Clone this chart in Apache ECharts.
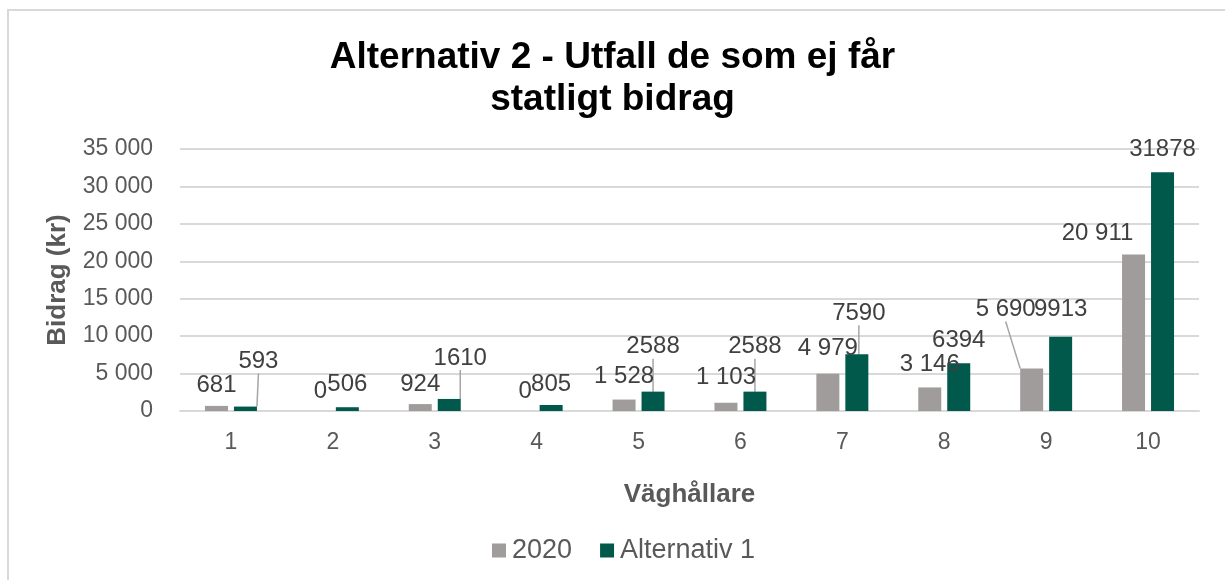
<!DOCTYPE html>
<html><head><meta charset="utf-8">
<script src="https://cdn.jsdelivr.net/npm/echarts@6/dist/echarts.min.js"></script>
<style>html,body{margin:0;padding:0;background:#fff}#c{width:1225px;height:580px}</style>
</head><body><div id="c"></div>
<script>
const categories = ['1','2','3','4','5','6','7','8','9','10'];
const values2020 = [681, 0, 924, 0, 1528, 1103, 4979, 3146, 5690, 20911];
const valuesAlt1 = [593, 506, 1610, 805, 2588, 2588, 7590, 6394, 9913, 31878];
const seriesNames = ['2020', 'Alternativ 1'];
const yTicks = [0, 5000, 10000, 15000, 20000, 25000, 30000, 35000];

// label moves (dx, dy) relative to default 'top' placement, and leader line flags
const move2020 = [[0,-4],[2,-3],[0,-3],[3,-3],[0,-6],[0,-8],[0,-8],[0,-6],[-26,-42],[-36,-4]];
const line2020 = [0,0,0,0,0,0,0,0,1,0];
const moveAlt = [[13,-28],[0,-6],[11,-24],[0,-4],[0,-28],[0,-28],[2,-24],[0,-6],[0,-10],[0,-6]];
const lineAlt = [1,0,1,0,1,1,1,0,0,0];

const fmtSpace = v => String(v).replace(/\B(?=(\d{3})+(?!\d))/g, ' ');
const FONT = '"Liberation Sans", Arial, sans-serif';

const chart = echarts.init(document.getElementById('c'));
function mk(vals, lines) {
  return vals.map((v, i) => ({ value: v, labelLine: { show: !!lines[i] } }));
}
chart.setOption({
  animation: false,
  textStyle: { fontFamily: FONT },
  graphic: [{ type: 'rect', shape: { x: 8, y: 10, width: 1240, height: 600 },
    style: { fill: 'none', stroke: '#d9d9d9', lineWidth: 2 }, silent: true }],
  title: {
    text: 'Alternativ 2 - Utfall de som ej får\nstatligt bidrag',
    left: 'center', top: 32,
    textStyle: { fontFamily: FONT, fontSize: 37, fontWeight: 'bold', color: '#000', lineHeight: 42 }
  },
  legend: {
    top: 532, left: 487, itemWidth: 14, itemHeight: 14, itemGap: 28,
    icon: 'rect',
    textStyle: { fontFamily: FONT, fontSize: 27, color: '#595959', padding: [0,0,0,1] },
    data: seriesNames
  },
  grid: { left: 180, right: 26, top: 149, bottom: 169, containLabel: false },
  xAxis: {
    type: 'category', data: categories,
    name: 'Väghållare', nameLocation: 'middle', nameGap: 71,
    nameTextStyle: { fontFamily: FONT, fontSize: 26, fontWeight: 'bold', color: '#595959' },
    axisLine: { lineStyle: { color: '#d9d9d9', width: 2 } },
    axisTick: { show: false },
    axisLabel: { fontFamily: FONT, fontSize: 23, color: '#595959', margin: 20 }
  },
  yAxis: {
    type: 'value', min: yTicks[0], max: yTicks[yTicks.length-1], interval: 5000,
    name: 'Bidrag (kr)', nameLocation: 'middle', nameGap: 109, nameRotate: 90,
    nameTextStyle: { fontFamily: FONT, fontSize: 26, fontWeight: 'bold', color: '#595959' },
    axisLine: { show: false }, axisTick: { show: false },
    splitLine: { lineStyle: { color: '#d9d9d9', width: 2 } },
    axisLabel: { fontFamily: FONT, fontSize: 23, color: '#595959', margin: 27, formatter: v => fmtSpace(v) }
  },
  series: [
    {
      name: seriesNames[0], type: 'bar', data: mk(values2020, line2020),
      barWidth: 23, barGap: '26%',
      itemStyle: { color: '#a09c9b' },
      label: { show: true, position: 'top', fontFamily: FONT, fontSize: 24, color: '#404040',
        formatter: p => fmtSpace(p.value) },
      labelLine: { lineStyle: { color: '#a6a6a6', width: 1.5 } },
      labelLayout: p => ({ dx: move2020[p.dataIndex][0], dy: move2020[p.dataIndex][1] })
    },
    {
      name: seriesNames[1], type: 'bar', data: mk(valuesAlt1, lineAlt),
      barWidth: 23, barGap: '26%',
      itemStyle: { color: '#00594a' },
      label: { show: true, position: 'top', fontFamily: FONT, fontSize: 24, color: '#404040',
        formatter: p => String(p.value) },
      labelLine: { lineStyle: { color: '#a6a6a6', width: 1.5 } },
      labelLayout: p => ({ dx: moveAlt[p.dataIndex][0], dy: moveAlt[p.dataIndex][1] })
    }
  ]
});
</script></body></html>
